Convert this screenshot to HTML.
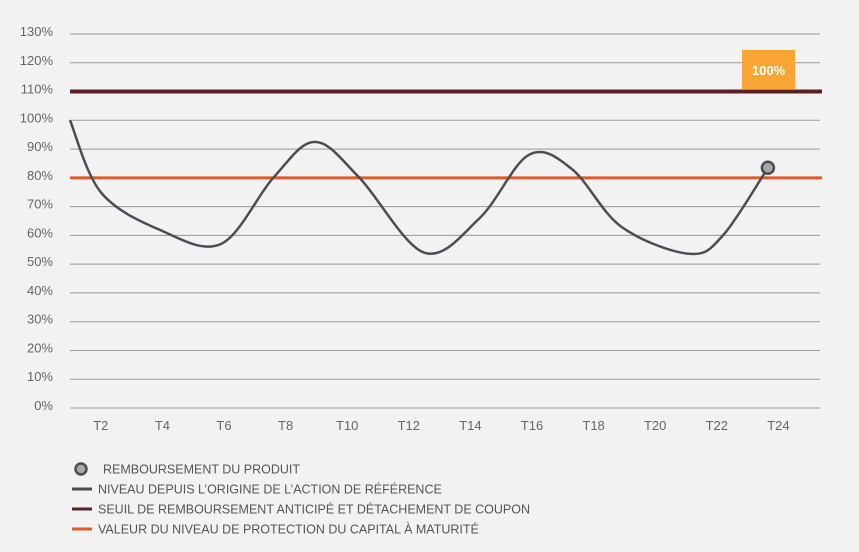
<!DOCTYPE html>
<html><head><meta charset="utf-8"><style>
body{margin:0;background:#f2f2f2;font-family:"Liberation Sans",sans-serif;}
svg{display:block}
</style></head><body>
<svg id="c" width="859" height="552">
<rect width="859" height="552" fill="#f2f2f2"/>
<g id="grid"></g><g id="lines"></g><g id="legend"></g>
</svg>
<script>
const yTicks=[0,10,20,30,40,50,60,70,80,90,100,110,120,130];
const xTicks=[2,4,6,8,10,12,14,16,18,20,22,24];
const seriesT=[1,2,3.9,5.9,7.6,8.95,10.4,12.5,14.3,15.9,17.3,18.9,21.1,22.2,23.66];
const seriesV=[100,75,62,57,80,92.5,80,54,66,88,83,63,53.6,60,83.5];
const threshold=110, protection=80, label="100%";
const NS="http://www.w3.org/2000/svg";
const X=t=>70+(t-1)*30.8, Y=v=>408-v*2.877;
function mk(tag,at,parent,txt){const e=document.createElementNS(NS,tag);for(const k in at)e.setAttribute(k,at[k]);if(txt!==undefined)e.textContent=txt;document.getElementById(parent).appendChild(e);return e;}
yTicks.forEach(v=>{
 const l=mk('line',{x1:70,x2:820,y1:Y(v),y2:Y(v),stroke:'#999','stroke-width':1},'grid');
 
 
 const t=mk('text',{x:53,y:Y(v)+2,'text-anchor':'end','font-size':13,fill:'#666'},'grid',v+'%');
 
 
});
xTicks.forEach(v=>{
 const t=mk('text',{x:X(v),y:430,'text-anchor':'middle','font-size':13,fill:'#666'},'grid','T'+v);
 
 
});
let l1=mk('line',{x1:70,x2:822,y1:Y(threshold),y2:Y(threshold),stroke:'#5b1f26','stroke-width':4},'lines');


let l2=mk('line',{x1:70,x2:822,y1:Y(protection),y2:Y(protection),stroke:'#e05a25','stroke-width':3},'lines');


const pts=seriesT.map((t,i)=>[X(t),Y(seriesV[i])]);
let d='M'+pts[0][0]+','+pts[0][1];
for(let i=0;i<pts.length-1;i++){const p0=pts[i-1]||pts[i],p1=pts[i],p2=pts[i+1],p3=pts[i+2]||p2;
 d+=' C'+(p1[0]+(p2[0]-p0[0])/6)+','+(p1[1]+(p2[1]-p0[1])/6)+' '+(p2[0]-(p3[0]-p1[0])/6)+','+(p2[1]-(p3[1]-p1[1])/6)+' '+p2[0]+','+p2[1];}
let p=mk('path',{d:d,fill:'none',stroke:'#4a4d55','stroke-width':2.5},'lines');


const last=pts[pts.length-1];
let m=mk('circle',{cx:last[0],cy:last[1],r:6,fill:'#a6a8ab',stroke:'#4a4d55','stroke-width':2.5},'lines');


let b=mk('rect',{x:742,y:50,width:53,height:39,fill:'#f9a534'},'lines');


let bt=mk('text',{x:768.5,y:75,'text-anchor':'middle','font-size':13,'font-weight':'bold',fill:'#fff'},'lines',label);


const leg=[['REMBOURSEMENT DU PRODUIT','dot'],['NIVEAU DEPUIS L\u2019ORIGINE DE L\u2019ACTION DE R\u00c9F\u00c9RENCE','#4a4d55'],['SEUIL DE REMBOURSEMENT ANTICIP\u00c9 ET D\u00c9TACHEMENT DE COUPON','#5b1f26'],['VALEUR DU NIVEAU DE PROTECTION DU CAPITAL \u00c0 MATURIT\u00c9','#e05a25']];
leg.forEach((e,i)=>{const y=469+i*20;
 let s;
 if(e[1]==='dot'){s=mk('circle',{cx:81,cy:y,r:5.5,fill:'#a6a8ab',stroke:'#4a4d55','stroke-width':2.5},'legend');}
 else{s=mk('line',{x1:72,x2:92,y1:y,y2:y,stroke:e[1],'stroke-width':3},'legend');}
 
 
 const t=mk('text',{x:e[1]==='dot'?103:98,y:y+4.5,'font-size':12.5,fill:'#555'},'legend',e[0]);
 
 
});
</script>
</body></html>
